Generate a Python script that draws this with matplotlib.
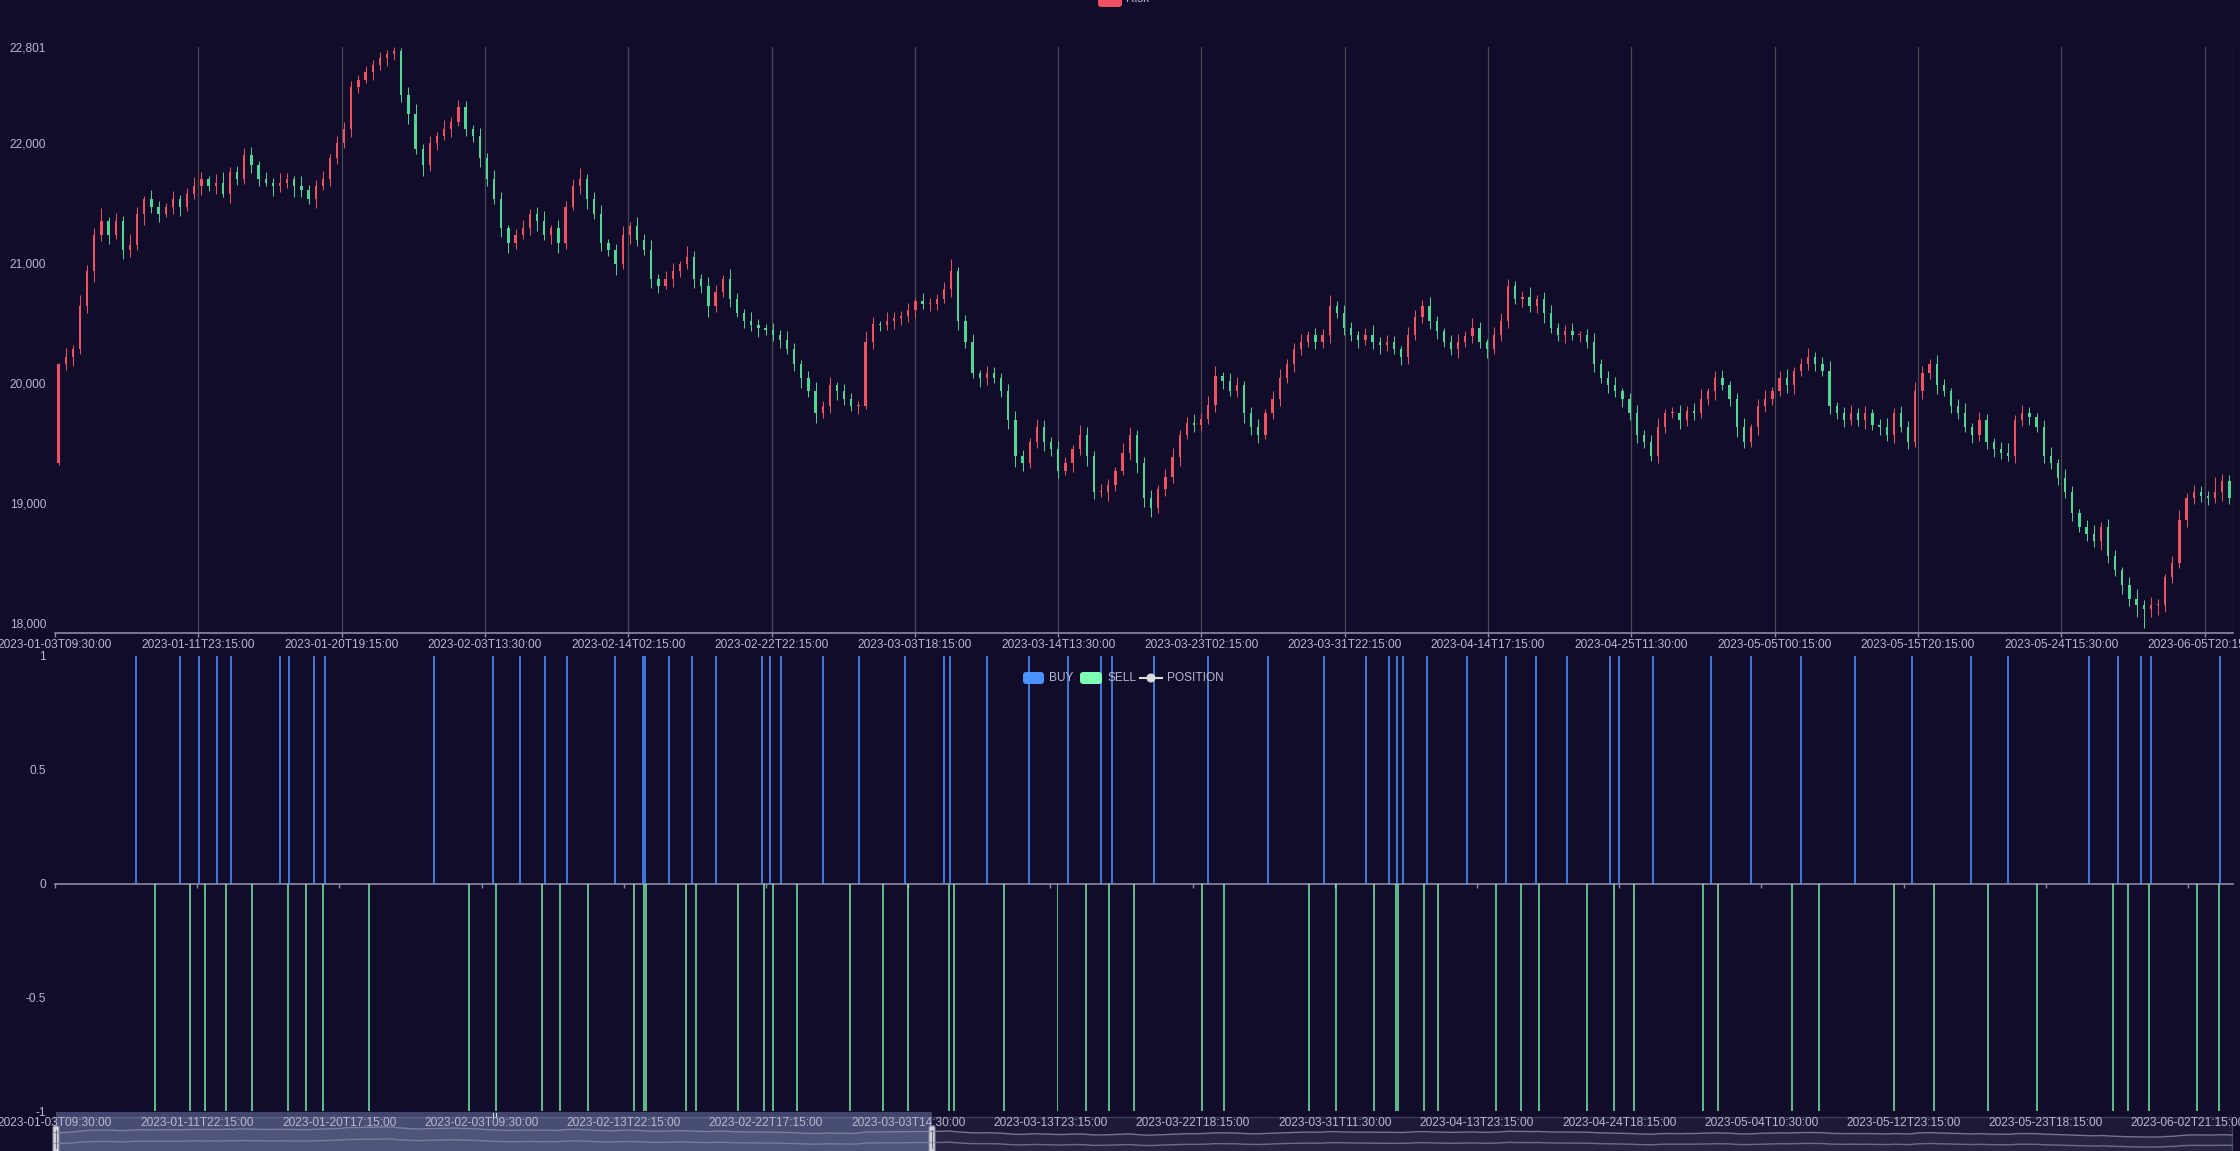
import numpy as np
import matplotlib
matplotlib.use('Agg')
import matplotlib.pyplot as plt
from matplotlib.patches import Rectangle, FancyBboxPatch, Circle

plt.rcParams['font.family'] = ['Liberation Sans', 'DejaVu Sans']

# ---- price candles (open of each candle = close of the one before) ----
first_open = 19330
closes = [
    20160, 20220, 20280, 20640, 20930, 21230, 21350, 21230, 21350, 21110, 21150, 21410, 21530, 21470, 21410, 21470, 21530, 21470, 21580, 21640,
    21700, 21640, 21670, 21580, 21760, 21700, 21900, 21820, 21700, 21670, 21640, 21670, 21700, 21640, 21610, 21530, 21640, 21700, 21880, 22000,
    22120, 22470, 22530, 22590, 22650, 22710, 22740, 22770, 22400, 22240, 21950, 21820, 22000, 22060, 22120, 22180, 22300, 22120, 22060, 21880,
    21700, 21530, 21290, 21170, 21230, 21290, 21410, 21350, 21230, 21290, 21170, 21470, 21640, 21700, 21530, 21410, 21170, 21110, 20990, 21230,
    21310, 21190, 21110, 20870, 20810, 20870, 20930, 20990, 21050, 20870, 20810, 20640, 20760, 20870, 20700, 20580, 20520, 20480, 20460, 20440,
    20400, 20360, 20280, 20160, 20040, 19930, 19750, 19810, 19980, 19930, 19870, 19810, 19810, 20340, 20490, 20480, 20520, 20540, 20560, 20610,
    20680, 20660, 20660, 20700, 20780, 20930, 20520, 20340, 20080, 20040, 20080, 20040, 19930, 19690, 19390, 19330, 19510, 19630, 19510, 19450,
    19270, 19330, 19450, 19570, 19390, 19090, 19090, 19150, 19270, 19420, 19570, 19330, 19040, 18960, 19120, 19220, 19380, 19570, 19670, 19650,
    19700, 19820, 20060, 20020, 19930, 19980, 19750, 19630, 19570, 19750, 19870, 20040, 20160, 20280, 20340, 20400, 20340, 20400, 20640, 20580,
    20460, 20400, 20360, 20400, 20340, 20320, 20340, 20280, 20220, 20400, 20550, 20640, 20520, 20430, 20340, 20280, 20340, 20390, 20460, 20340,
    20280, 20400, 20520, 20810, 20700, 20720, 20640, 20700, 20580, 20460, 20400, 20430, 20400, 20400, 20340, 20160, 20040, 19980, 19930, 19870,
    19750, 19570, 19510, 19390, 19630, 19750, 19750, 19690, 19770, 19750, 19870, 19930, 20040, 19980, 19870, 19630, 19510, 19630, 19810, 19870,
    19930, 20040, 19980, 20100, 20160, 20220, 20160, 20100, 19810, 19750, 19690, 19750, 19690, 19750, 19650, 19630, 19570, 19750, 19630, 19510,
    19930, 20080, 20160, 19980, 19930, 19810, 19750, 19630, 19570, 19690, 19510, 19450, 19420, 19390, 19690, 19750, 19720, 19630, 19390, 19330,
    19210, 19090, 18920, 18800, 18740, 18680, 18800, 18560, 18440, 18320, 18200, 18150, 18120, 18150, 18150, 18380, 18500, 18860, 19040, 19090,
    19060, 19040, 19090, 19180, 19040,
]
wick_up = [
    10, 70, 40, 90, 50, 60, 110, 30, 70, 40, 90, 60, 30, 80, 50, 30, 70, 40, 50, 80,
    60, 30, 70, 90, 40, 50, 60, 70, 30, 60, 40, 80, 50, 30, 90, 40, 50, 70, 30, 60,
    60, 50, 40, 50, 40, 50, 40, 31, 20, 70, 90, 40, 60, 30, 70, 40, 60, 50, 30, 70,
    40, 80, 60, 30, 50, 70, 40, 60, 80, 30, 70, 50, 60, 90, 40, 60, 70, 30, 50, 80,
    30, 70, 50, 80, 40, 60, 70, 30, 90, 50, 40, 70, 60, 30, 80, 50, 40, 70, 50, 30,
    60, 40, 70, 50, 30, 60, 80, 40, 70, 30, 60, 50, 40, 90, 60, 30, 70, 50, 40, 60,
    30, 70, 50, 40, 60, 100, 40, 50, 70, 30, 60, 50, 40, 60, 80, 50, 30, 70, 60, 40,
    70, 50, 30, 80, 60, 40, 70, 50, 30, 80, 60, 40, 50, 70, 30, 60, 80, 40, 50, 70,
    50, 70, 80, 30, 60, 70, 40, 50, 70, 30, 60, 80, 40, 50, 70, 30, 60, 50, 90, 40,
    70, 50, 30, 60, 80, 40, 60, 50, 30, 70, 60, 50, 80, 40, 30, 60, 70, 40, 80, 50,
    30, 70, 60, 60, 40, 50, 80, 30, 60, 70, 40, 50, 70, 30, 50, 80, 40, 60, 70, 30,
    50, 70, 40, 60, 80, 30, 50, 70, 40, 60, 80, 30, 60, 70, 40, 50, 80, 30, 60, 70,
    40, 60, 80, 30, 50, 70, 40, 60, 80, 30, 50, 70, 40, 60, 30, 50, 80, 40, 60, 50,
    80, 60, 40, 70, 50, 30, 60, 80, 40, 70, 50, 30, 60, 80, 40, 70, 50, 30, 60, 80,
    40, 70, 50, 30, 60, 80, 40, 70, 50, 30, 60, 80, 40, 70, 50, 30, 60, 80, 40, 60,
    50, 40, 130, 60, 50,
]
wick_dn = [
    10, 50, 80, 40, 60, 90, 50, 70, 30, 80, 60, 40, 90, 50, 70, 30, 60, 80, 40, 50,
    70, 40, 60, 30, 80, 50, 40, 70, 60, 30, 80, 50, 40, 90, 60, 40, 70, 30, 60, 50,
    40, 70, 50, 30, 60, 40, 70, 50, 60, 80, 40, 90, 50, 60, 30, 70, 40, 60, 50, 80,
    60, 40, 70, 90, 50, 30, 60, 80, 40, 70, 90, 50, 30, 60, 80, 40, 70, 50, 90, 40,
    70, 50, 40, 80, 60, 30, 70, 50, 40, 80, 60, 90, 50, 40, 70, 30, 60, 50, 80, 40,
    50, 70, 40, 60, 80, 50, 80, 40, 60, 70, 50, 40, 70, 30, 60, 50, 40, 70, 60, 50,
    70, 40, 60, 50, 30, 60, 80, 50, 40, 70, 60, 40, 50, 70, 90, 60, 40, 50, 80, 60,
    60, 40, 70, 50, 80, 60, 40, 70, 50, 40, 60, 80, 70, 80, 40, 60, 50, 70, 40, 60,
    50, 40, 60, 70, 40, 50, 80, 60, 70, 40, 50, 60, 40, 70, 50, 40, 60, 50, 70, 40,
    60, 50, 70, 40, 60, 80, 50, 40, 70, 60, 40, 50, 70, 60, 40, 50, 70, 40, 60, 50,
    70, 40, 50, 60, 40, 70, 50, 60, 80, 40, 50, 70, 40, 60, 50, 70, 40, 60, 50, 70,
    60, 70, 50, 40, 60, 50, 40, 70, 50, 60, 40, 50, 70, 40, 60, 80, 50, 40, 60, 50,
    50, 40, 60, 70, 40, 50, 60, 40, 70, 50, 60, 40, 50, 70, 40, 60, 50, 70, 40, 60,
    40, 60, 50, 70, 40, 60, 50, 40, 70, 50, 60, 70, 50, 40, 60, 50, 70, 40, 60, 50,
    60, 50, 70, 40, 60, 50, 70, 60, 50, 80, 60, 100, 160, 70, 80, 60, 50, 40, 60, 50,
    50, 60, 40, 70, 50,
]
price_floor = 17917
price_ticks = [18000, 19000, 20000, 21000, 22000, 22801]

top_labels = ['2023-01-03T09:30:00', '2023-01-11T23:15:00', '2023-01-20T19:15:00',
              '2023-02-03T13:30:00', '2023-02-14T02:15:00', '2023-02-22T22:15:00',
              '2023-03-03T18:15:00', '2023-03-14T13:30:00', '2023-03-23T02:15:00',
              '2023-03-31T22:15:00', '2023-04-14T17:15:00', '2023-04-25T11:30:00',
              '2023-05-05T00:15:00', '2023-05-15T20:15:00', '2023-05-24T15:30:00',
              '2023-06-05T20:15:00']

# ---- trade signals (bar index on the lower axis) ----
n_sig = 2430
buy_idx = [90, 139, 160, 180, 196, 250, 261, 288, 301, 422, 488, 518, 546, 571, 624, 656, 658,
           684, 710, 737, 788, 797, 809, 856, 897, 948, 991, 998, 1039, 1086, 1130, 1166, 1179,
           1226, 1286, 1353, 1415, 1462, 1488, 1497, 1503, 1530, 1575, 1618, 1652, 1686, 1734,
           1744, 1782, 1847, 1892, 1947, 2008, 2071, 2137, 2178, 2269, 2301, 2327, 2338, 2415]
sell_idx = [111, 150, 167, 190, 219, 260, 280, 298, 350, 461, 492, 543, 563, 594, 646, 657, 659,
            704, 715, 762, 791, 801, 827, 886, 923, 951, 997, 1003, 1058, 1118, 1150, 1175, 1203,
            1279, 1304, 1399, 1429, 1471, 1496, 1498, 1527, 1542, 1607, 1635, 1655, 1709, 1739,
            1761, 1838, 1855, 1938, 1968, 2051, 2096, 2156, 2211, 2296, 2312, 2336, 2389, 2414]
buy_size = [1] * len(buy_idx)
sell_size = [-1] * len(sell_idx)

bottom_labels = ['2023-01-03T09:30:00', '2023-01-11T22:15:00', '2023-01-20T17:15:00',
                 '2023-02-03T09:30:00', '2023-02-13T22:15:00', '2023-02-22T17:15:00',
                 '2023-03-03T14:30:00', '2023-03-13T23:15:00', '2023-03-22T18:15:00',
                 '2023-03-31T11:30:00', '2023-04-13T23:15:00', '2023-04-24T18:15:00',
                 '2023-05-04T10:30:00', '2023-05-12T23:15:00', '2023-05-23T18:15:00',
                 '2023-06-02T21:15:00']

# ---- style ----
BG = '#100c2a'
TXT = '#b9b8ce'
AXLINE = '#8d8ba3'
SPLIT = '#484753'
RED = '#ef5160'
GREEN = '#4cd894'
BUY = '#4992ff'
SELL = '#7cffb2'
FS = 8.6

W, H = 2240, 1151
fig = plt.figure(figsize=(W / 100, H / 100), dpi=100, facecolor=BG)

# slider (data zoom) layer, in pixel units
axs = fig.add_axes([0, 0, 1, 1], zorder=0)
axs.set_xlim(0, W)
axs.set_ylim(H, 0)
axs.set_axis_off()

ax1 = fig.add_axes([55 / W, 1 - 633 / H, 2178 / W, 586 / H], zorder=1)
ax2 = fig.add_axes([55 / W, 1 - 1111 / H, 2178 / W, 455 / H], zorder=2)
for a in (ax1, ax2):
    a.set_facecolor('none')
    for s in ('top', 'right', 'left'):
        a.spines[s].set_visible(False)
    a.spines['bottom'].set_color(AXLINE)
    a.spines['bottom'].set_linewidth(1.2)

# ---- candlesticks ----
c = np.array(closes, dtype=float)
o = np.array([first_open] + closes[:-1], dtype=float)
hi = np.maximum(o, c) + np.array(wick_up)
lo = np.minimum(o, c) - np.array(wick_dn)
x = np.arange(len(c))
cols = np.where(c >= o, RED, GREEN)
ax1.vlines(x, lo, hi, colors=cols, lw=0.7, zorder=3)
ax1.bar(x, np.maximum(np.abs(c - o), 10), bottom=np.minimum(o, c), width=0.32,
        color=cols, lw=0, zorder=3)
ax1.set_xlim(-0.5, len(c) - 0.5)
ax1.set_ylim(price_floor, hi.max())
ax1.set_yticks(price_ticks)
ax1.set_yticklabels(['{:,}'.format(v) for v in price_ticks])
step1 = len(c) * 143.3 / 2178
tpos = -0.5 + step1 * np.arange(len(top_labels))
ax1.set_xticks(tpos)
ax1.set_xticklabels(top_labels)
ax1.tick_params(axis='x', colors=AXLINE, labelcolor=TXT, labelsize=FS, length=3, width=1, pad=1.5)
ax1.tick_params(axis='y', length=0, labelcolor=TXT, labelsize=FS, pad=6.5)
for t in tpos[1:]:
    ax1.axvline(t, color=SPLIT, lw=0.9, zorder=1)
ax1.axvline(len(c) - 0.5, color=SPLIT, lw=0.9, zorder=1)

# ---- signal bars ----
ax2.bar(buy_idx, buy_size, width=2.2, color=BUY, alpha=0.8, lw=0, zorder=3)
ax2.bar(sell_idx, sell_size, width=2.2, color=SELL, alpha=0.7, lw=0, zorder=3)
ax2.set_xlim(-0.5, n_sig - 0.5)
ax2.set_ylim(-1, 1)
ax2.spines['bottom'].set_position(('data', 0))
ax2.set_yticks([-1, -0.5, 0, 0.5, 1])
ax2.set_yticklabels(['-1', '-0.5', '0', '0.5', '1'])
step2 = n_sig * 142.2 / 2178
bpos = -0.5 + step2 * np.arange(len(bottom_labels))
ax2.set_xticks(bpos)
ax2.set_xticklabels([])
ax2.tick_params(axis='x', colors=AXLINE, length=3, width=1)
ax2.tick_params(axis='y', length=0, labelcolor=TXT, labelsize=FS, pad=6.5)
for p, lab in zip(bpos, bottom_labels):
    ax2.text(p, -0.026, lab, transform=ax2.get_xaxis_transform(), ha='center', va='center',
             color=TXT, fontsize=FS, clip_on=False, zorder=5)

# ---- data zoom slider ----
axs.add_patch(Rectangle((54, 1117), 2178, 40, facecolor='#1d1a38', edgecolor='#3d3b58', lw=1))
xs = np.linspace(54, 2232, len(c))
nrm = (c - c.min()) / (c.max() - c.min())
up_line = 1137 - nrm * 10
low_line = 1147 - nrm * 8
axs.fill_between(xs, up_line, 1151, color='#ffffff', alpha=0.05, lw=0)
axs.plot(xs, up_line, color='#8b8aa6', lw=1.0, alpha=0.8)
axs.plot(xs, low_line, color='#8b8aa6', lw=1.0, alpha=0.7)
axs.add_patch(Rectangle((56, 1112), 876, 45, facecolor='#8a9cd0', alpha=0.4, lw=0))
for hx in (56, 932):
    axs.add_patch(FancyBboxPatch((hx - 3, 1126), 6, 30, boxstyle='round,pad=0,rounding_size=2',
                                 facecolor='#d6d6de', edgecolor='#8c8ca0', lw=0.8))
    axs.plot([hx, hx], [1130, 1148], color='#6a6a80', lw=0.8)
axs.plot([493, 493], [1113, 1117], color='#e0e0e8', lw=0.8)
axs.plot([496, 496], [1113, 1117], color='#e0e0e8', lw=0.8)

# ---- legends ----
axl = fig.add_axes([0, 0, 1, 1], zorder=5)
axl.set_xlim(0, W)
axl.set_ylim(H, 0)
axl.set_axis_off()
axl.add_patch(FancyBboxPatch((1098, -8), 24, 15, boxstyle='round,pad=0,rounding_size=3',
                             facecolor=RED, lw=0))
axl.text(1126, -1, 'Risk', color=TXT, fontsize=FS, va='center', ha='left')
axl.add_patch(FancyBboxPatch((1023, 672), 21, 12, boxstyle='round,pad=0,rounding_size=3',
                             facecolor=BUY, lw=0))
axl.text(1049, 678, 'BUY', color=TXT, fontsize=FS, va='center', ha='left')
axl.add_patch(FancyBboxPatch((1080, 672), 22, 12, boxstyle='round,pad=0,rounding_size=3',
                             facecolor=SELL, lw=0))
axl.text(1107, 678, 'SELL', color=TXT, fontsize=FS, va='center', ha='left')
axl.plot([1140, 1162], [678, 678], color='#dcdcdc', lw=1.5)
axl.add_patch(Circle((1151, 678), 4.5, facecolor='#dcdcdc', lw=0))
axl.text(1167, 678, 'POSITION', color=TXT, fontsize=FS, va='center', ha='left')

fig.savefig('out.png', dpi=100, facecolor=BG)
